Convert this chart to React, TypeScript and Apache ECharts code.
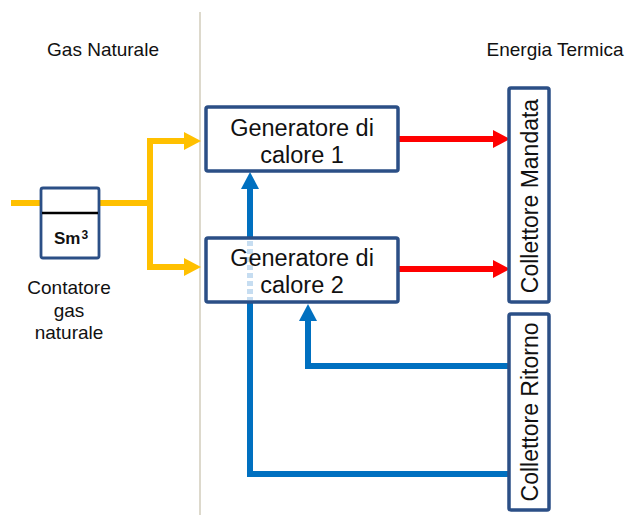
import React, { useEffect, useRef } from "react";
import * as echarts from "echarts";

const FONT = '"Liberation Sans", Arial, sans-serif';
const headers = ["Gas Naturale", "Energia Termica"];
const generatorLabels = ["Generatore di\ncalore 1", "Generatore di\ncalore 2"];
const collectorLabels = ["Collettore Mandata", "Collettore Ritorno"];
const meterLabel = "Contatore\ngas\nnaturale";
const meterUnit = ["Sm", "3"];

const ORANGE = "#FFC000";
const RED = "#FF0000";
const BLUE = "#0070C0";
const BOX = "#2B4F86";

function arrowHead(tip: [number, number], dir: "right" | "up", color: string, len = 17, half = 9) {
  const [x, y] = tip;
  const pts =
    dir === "right"
      ? [[x, y], [x - len, y - half], [x - len, y + half]]
      : [[x, y], [x - half, y + len], [x + half, y + len]];
  return { type: "polygon", shape: { points: pts }, style: { fill: color }, z: 5 };
}

function line(points: number[][], color: string, width = 6, extra: any = {}) {
  return {
    type: "polyline",
    shape: { points },
    style: { stroke: color, lineWidth: width, fill: null, lineJoin: "miter", lineCap: "butt", ...extra },
    z: 4,
  };
}

function box(x: number, y: number, w: number, h: number, lw = 3.5) {
  return {
    type: "rect",
    shape: { x, y, width: w, height: h, r: 2 },
    style: { fill: "#ffffff", stroke: BOX, lineWidth: lw },
    z: 10,
  };
}

function text(t: string, x: number, y: number, size: number, extra: any = {}) {
  return {
    type: "text",
    x,
    y,
    z: 20,
    style: {
      text: t,
      fontFamily: FONT,
      fontSize: size,
      fill: "#111111",
      align: "center",
      verticalAlign: "middle",
      ...extra,
    },
  };
}

export default function App() {
  const ref = useRef<HTMLDivElement>(null);
  useEffect(() => {
    if (!ref.current) return;
    const chart = echarts.init(ref.current, undefined, { renderer: "svg" });
    const elements: any[] = [
      // divider
      { type: "line", shape: { x1: 200, y1: 12, x2: 200, y2: 515 }, style: { stroke: "#DDD9CC", lineWidth: 2 }, z: 1 },
      // headers
      text(headers[0], 103, 49, 19),
      text(headers[1], 555, 49, 19),
      // gas lines
      line([[11, 203], [150, 203]], ORANGE),
      line([[150, 141], [150, 268]], ORANGE),
      line([[147, 141], [186, 141]], ORANGE),
      line([[147, 267], [186, 267]], ORANGE),
      arrowHead([201, 141], "right", ORANGE),
      arrowHead([201, 267], "right", ORANGE),
      // red supply lines
      line([[398, 139], [494, 139]], RED),
      line([[398, 269], [494, 269]], RED),
      arrowHead([510, 139], "right", RED),
      arrowHead([510, 269], "right", RED),
      // blue return lines
      line([[509, 366], [308, 366], [308, 320]], BLUE),
      arrowHead([308, 304], "up", BLUE),
      line([[509, 474], [250, 474], [250, 188]], BLUE),
      arrowHead([250, 172], "up", BLUE),
      // meter
      box(41, 188, 58, 70, 2.8),
      { type: "line", shape: { x1: 42, y1: 213, x2: 98, y2: 213 }, style: { stroke: "#000", lineWidth: 2.5 }, z: 12 },
      line([[41, 203], [99, 203]], ORANGE, 6),
      {
        type: "text",
        x: 71,
        y: 238,
        z: 20,
        style: {
          text: `{a|${meterUnit[0]}}{b|${meterUnit[1]}}`,
          align: "center",
          verticalAlign: "middle",
          rich: {
            a: { fontFamily: FONT, fontSize: 17, fontWeight: "bold", fill: "#111", verticalAlign: "bottom" },
            b: { fontFamily: FONT, fontSize: 12, fontWeight: "bold", fill: "#111", verticalAlign: "top", padding: [0, 0, 6, 1] },
          },
        },
      },
      text(meterLabel, 69, 310, 19, { lineHeight: 22.5 }),
      // generators
      box(206, 107, 192, 64),
      text(generatorLabels[0], 302, 141, 23.5, { lineHeight: 27 }),
      box(206, 238, 192, 64),
      { type: "line", shape: { x1: 250, y1: 241, x2: 250, y2: 300 }, style: { stroke: "#C6DDF1", lineWidth: 6, lineDash: [5, 3] }, z: 11 },
      text(generatorLabels[1], 302, 271, 23.5, { lineHeight: 27 }),
      // collectors
      box(509, 88, 40, 214),
      { ...text(collectorLabels[0], 530, 196, 23), rotation: Math.PI / 2 },
      box(509, 314, 40, 196),
      { ...text(collectorLabels[1], 530, 412, 23), rotation: Math.PI / 2 },
    ];
    chart.setOption({
      animation: false,
      backgroundColor: "#ffffff",
      graphic: { elements },
    });
    return () => chart.dispose();
  }, []);
  return <div ref={ref} style={{ position: "fixed", left: 0, top: 0, width: 627, height: 515 }} />;
}
